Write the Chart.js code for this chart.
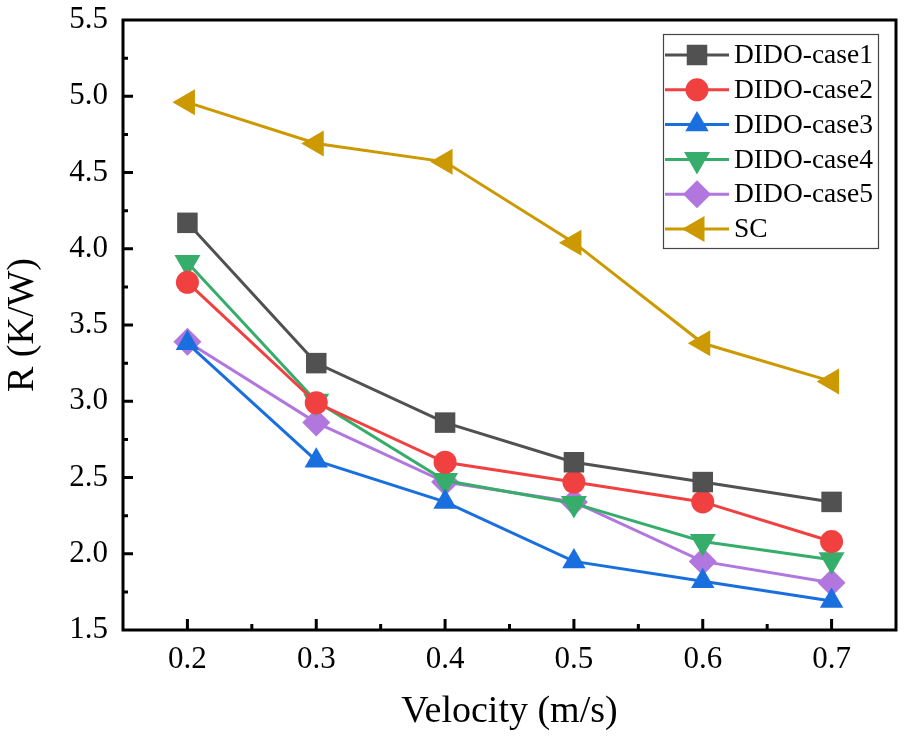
<!DOCTYPE html>
<html>
<head>
<meta charset="utf-8">
<script src="https://cdn.jsdelivr.net/npm/chart.js@4/dist/chart.umd.min.js"></script>
<style>
  html, body { margin: 0; padding: 0; background: #fff; }
  #wrap { width: 911px; height: 739px; }
</style>
</head>
<body>
<div id="wrap"><canvas id="c" width="911" height="739"></canvas></div>
<script>
// ---- data ----
const velocity = [0.2, 0.3, 0.4, 0.5, 0.6, 0.7];
const seriesNames = ['DIDO-case1', 'DIDO-case2', 'DIDO-case3', 'DIDO-case4', 'DIDO-case5', 'SC'];
const case1 = [4.17, 3.25, 2.86, 2.60, 2.47, 2.34];
const case2 = [3.78, 2.99, 2.60, 2.47, 2.34, 2.08];
const case3 = [3.38, 2.61, 2.34, 1.95, 1.82, 1.69];
const case4 = [3.91, 3.00, 2.48, 2.33, 2.08, 1.96];
const case5 = [3.39, 2.86, 2.47, 2.34, 1.95, 1.81];
const sc    = [4.96, 4.69, 4.57, 4.04, 3.38, 3.13];
const xTicks = [0.2, 0.3, 0.4, 0.5, 0.6, 0.7];
const yTicks = [1.5, 2.0, 2.5, 3.0, 3.5, 4.0, 4.5, 5.0, 5.5];

// ---- styles ----
const colors = ['#515151', '#F14040', '#1A6FDF', '#37AD6B', '#B177DE', '#CC9900'];
const shapes = ['rect', 'circle', 'triangle', 'triangle', 'rectRot', 'triangle'];
const rotations = [0, 0, 0, 180, 0, -90];
const radii = [14.5, 11.5, 13.5, 15, 14, 15];
const allValues = [case1, case2, case3, case4, case5, sc];

const FONT = "'Liberation Serif', 'Times New Roman', serif";

const datasets = allValues.map((vals, i) => ({
  label: seriesNames[i],
  data: velocity.map((v, j) => ({ x: v, y: vals[j] })),
  borderColor: colors[i],
  backgroundColor: colors[i],
  borderWidth: 3,
  pointStyle: shapes[i],
  pointRotation: rotations[i],
  pointRadius: radii[i],
  pointHoverRadius: radii[i],
  pointBorderWidth: 0,
  pointBackgroundColor: colors[i],
  tension: 0,
  clip: false
}));

function drawShape(ctx, style, x, y, r, rot, color) {
  if (Chart.helpers && Chart.helpers.drawPoint) {
    ctx.save();
    ctx.fillStyle = color;
    ctx.strokeStyle = color;
    ctx.lineWidth = 0;
    Chart.helpers.drawPoint(ctx, { pointStyle: style, rotation: rot, radius: r, borderWidth: 0 }, x, y);
    ctx.restore();
  }
}

const framePlugin = {
  id: 'frame',
  afterDraw(chart) {
    const { ctx, chartArea: a, scales } = chart;
    ctx.save();
    ctx.strokeStyle = '#000';
    ctx.lineWidth = 3;
    ctx.lineCap = 'butt';
    // ticks (inward)
    ctx.beginPath();
    const xs = scales.x, ys = scales.y;
    for (let v = 0.15; v <= 0.7501; v += 0.05) {
      const px = xs.getPixelForValue(v);
      const major = xTicks.some(t => Math.abs(t - v) < 1e-6);
      if (px <= a.left + 2 || px >= a.right - 2) continue;
      ctx.moveTo(px, a.bottom);
      ctx.lineTo(px, a.bottom - (major ? 11 : 6));
    }
    for (let v = 1.5; v <= 5.5001; v += 0.25) {
      const py = ys.getPixelForValue(v);
      const major = yTicks.some(t => Math.abs(t - v) < 1e-6);
      if (py <= a.top + 2 || py >= a.bottom - 2) continue;
      ctx.moveTo(a.left, py);
      ctx.lineTo(a.left + (major ? 10 : 5), py);
    }
    ctx.stroke();
    ctx.strokeRect(a.left, a.top, a.right - a.left, a.bottom - a.top);
    ctx.restore();

    // legend
    ctx.save();
    const bx = a.right - 233, by = a.top + 14, bw = 215, bh = 214;
    ctx.strokeStyle = '#444';
    ctx.lineWidth = 1.2;
    ctx.strokeRect(bx + 0.5, by + 0.5, bw, bh);
    ctx.font = '27.5px ' + FONT;
    ctx.textBaseline = 'middle';
    ctx.fillStyle = '#000';
    chart.data.datasets.forEach((ds, i) => {
      const y = by + 21 + i * 34.8;
      ctx.strokeStyle = ds.borderColor;
      ctx.lineWidth = 3;
      ctx.beginPath();
      ctx.moveTo(bx + 2, y);
      ctx.lineTo(bx + 66, y);
      ctx.stroke();
      drawShape(ctx, ds.pointStyle, bx + 34, y, ds.pointRadius, ds.pointRotation, ds.borderColor);
      ctx.fillStyle = '#000';
      ctx.fillText(ds.label, bx + 71, y + 1);
    });
    ctx.restore();
  }
};

new Chart(document.getElementById('c'), {
  type: 'line',
  data: { datasets },
  options: {
    responsive: false,
    animation: false,
    devicePixelRatio: 1,
    layout: { padding: { top: 20, right: 11, left: 0, bottom: 0 } },
    plugins: {
      legend: { display: false },
      tooltip: { enabled: false }
    },
    scales: {
      x: {
        type: 'linear',
        min: 0.15,
        max: 0.75,
        afterBuildTicks(scale) { scale.ticks = xTicks.map(v => ({ value: v })); },
        afterFit(scale) { scale.height = 109; scale.paddingLeft = 0; scale.paddingRight = 0; },
        grid: { display: false, drawTicks: false },
        border: { display: false },
        ticks: {
          padding: 11,
          color: '#000',
          font: { family: FONT, size: 31 },
          callback: v => Number(v).toFixed(1)
        },
        title: {
          display: true,
          text: 'Velocity (m/s)',
          color: '#000',
          font: { family: FONT, size: 38 },
          padding: { top: 0, bottom: 4 }
        }
      },
      y: {
        type: 'linear',
        min: 1.5,
        max: 5.5,
        afterBuildTicks(scale) { scale.ticks = yTicks.map(v => ({ value: v })); },
        afterFit(scale) { scale.width = 123; scale.paddingTop = 0; scale.paddingBottom = 0; },
        grid: { display: false, drawTicks: false },
        border: { display: false },
        ticks: {
          padding: 15,
          color: '#000',
          font: { family: FONT, size: 31 },
          callback: v => Number(v).toFixed(1)
        },
        title: {
          display: true,
          text: 'R (K/W)',
          color: '#000',
          font: { family: FONT, size: 38 },
          padding: { top: 0, bottom: 0 }
        }
      }
    }
  },
  plugins: [framePlugin]
});
</script>
</body>
</html>
